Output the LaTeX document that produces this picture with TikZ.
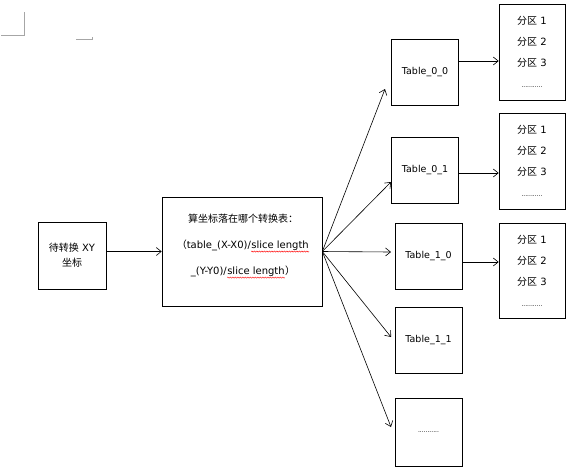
\documentclass[tikz,border=0pt]{standalone}
\usepackage{fontspec}
\setmainfont{DejaVu Sans}
\newfontfamily\cjkfont{Noto Sans CJK SC}
\usetikzlibrary{arrows.meta,decorations.pathmorphing}

\newcommand{\zh}[1]{{\cjkfont #1}}
\newcommand{\dotrow}{{\fontsize{6}{6}\selectfont ...........}}
% red spell-check wave under a word
\newcommand{\wavy}[1]{\tikz[baseline=(w.base)]{\node[inner sep=0pt] (w) {#1};
    \draw[squiggle] ([yshift=-1.2pt]w.south west) -- ([yshift=-1.2pt]w.south east);}}

\begin{document}
\begin{tikzpicture}[x=1pt, y=-1pt, >={Straight Barb[length=5pt,width=8pt]},
    box/.style={draw, line width=0.6pt, inner sep=0pt, align=center,
        font=\fontsize{10}{15}\selectfont},
    tbl/.style={box, minimum width=67pt, minimum height=66pt,
        font=\fontsize{9.5}{15}\selectfont},
    part/.style={box, minimum width=66pt, minimum height=96pt,
        font=\fontsize{10}{21}\selectfont},
    link/.style={->, line width=0.6pt},
    squiggle/.style={red, line width=0.4pt, decorate,
        decoration={snake, amplitude=0.6pt, segment length=2.5pt}}]
    \useasboundingbox (0,0) rectangle (572,472);

    % page corner marks
    \draw[gray!70, line width=0.8pt] (1,35) -- (24,35) -- (24,12);
    \draw[gray!70, line width=0.8pt] (76,39.5) -- (92,39.5) -- (92,37);

    % input and lookup
    \node[box, minimum width=68pt, minimum height=67pt] (input) at (72,255.5) {\zh{待转换} XY\\\zh{坐标}};
    \node[box, minimum width=160pt, minimum height=109pt] (calc) at (242,251.5) {};
    \node[align=center, inner sep=0pt, font=\fontsize{10}{26}\selectfont] (calctext) at (243,246)
        {\zh{算坐标落在哪个转换表：}\\\zh{（}table\_(X-X0)/\wavy{slice length}\\\_(Y-Y0)/\wavy{slice length}\zh{）}};

    % tables
    \node[tbl] (t00) at (425,72.5) {Table\_0\_0};
    \node[tbl] (t01) at (425,170) {Table\_0\_1};
    \node[tbl] (t10) at (428.5,256) {Table\_1\_0};
    \node[tbl] (t11) at (428.5,340) {Table\_1\_1};
    \node[tbl, minimum height=68pt] (tmore) at (428.5,432) {\dotrow};

    % partitions
    \node[part] (p0) at (532,52) {\zh{分区} 1\\\zh{分区} 2\\\zh{分区} 3\\\dotrow};
    \node[part] (p1) at (532,161) {\zh{分区} 1\\\zh{分区} 2\\\zh{分区} 3\\\dotrow};
    \node[part, minimum height=95pt] (p2) at (532,270.5) {\zh{分区} 1\\\zh{分区} 2\\\zh{分区} 3\\\dotrow};

    % fan out
    \coordinate (in00) at (385,89);
    \coordinate (in01) at (391,182);
    \coordinate (in10) at (391,252);
    \coordinate (in11) at (391,337);
    \coordinate (inmore) at (391,427);
    \draw[link] (input.east |- calc.west) -- (calc.west);
    \draw[link] (calc.east) -- (in00);
    \draw[link] (calc.east) -- (in01);
    \draw[link] (calc.east) -- (in10);
    \draw[link] (calc.east) -- (in11);
    \draw[link] (calc.east) -- (inmore);

    % table to partitions
    \coordinate (a00) at ([yshift=11.5pt]t00.east);
    \coordinate (a01) at ([yshift=-3pt]t01.east);
    \coordinate (a10) at ([yshift=-6pt]t10.east);
    \draw[link] (a00) -- (a00 -| p0.west);
    \draw[link] (a01) -- (a01 -| p1.west);
    \draw[link] (a10) -- (a10 -| p2.west);
\end{tikzpicture}
\end{document}
